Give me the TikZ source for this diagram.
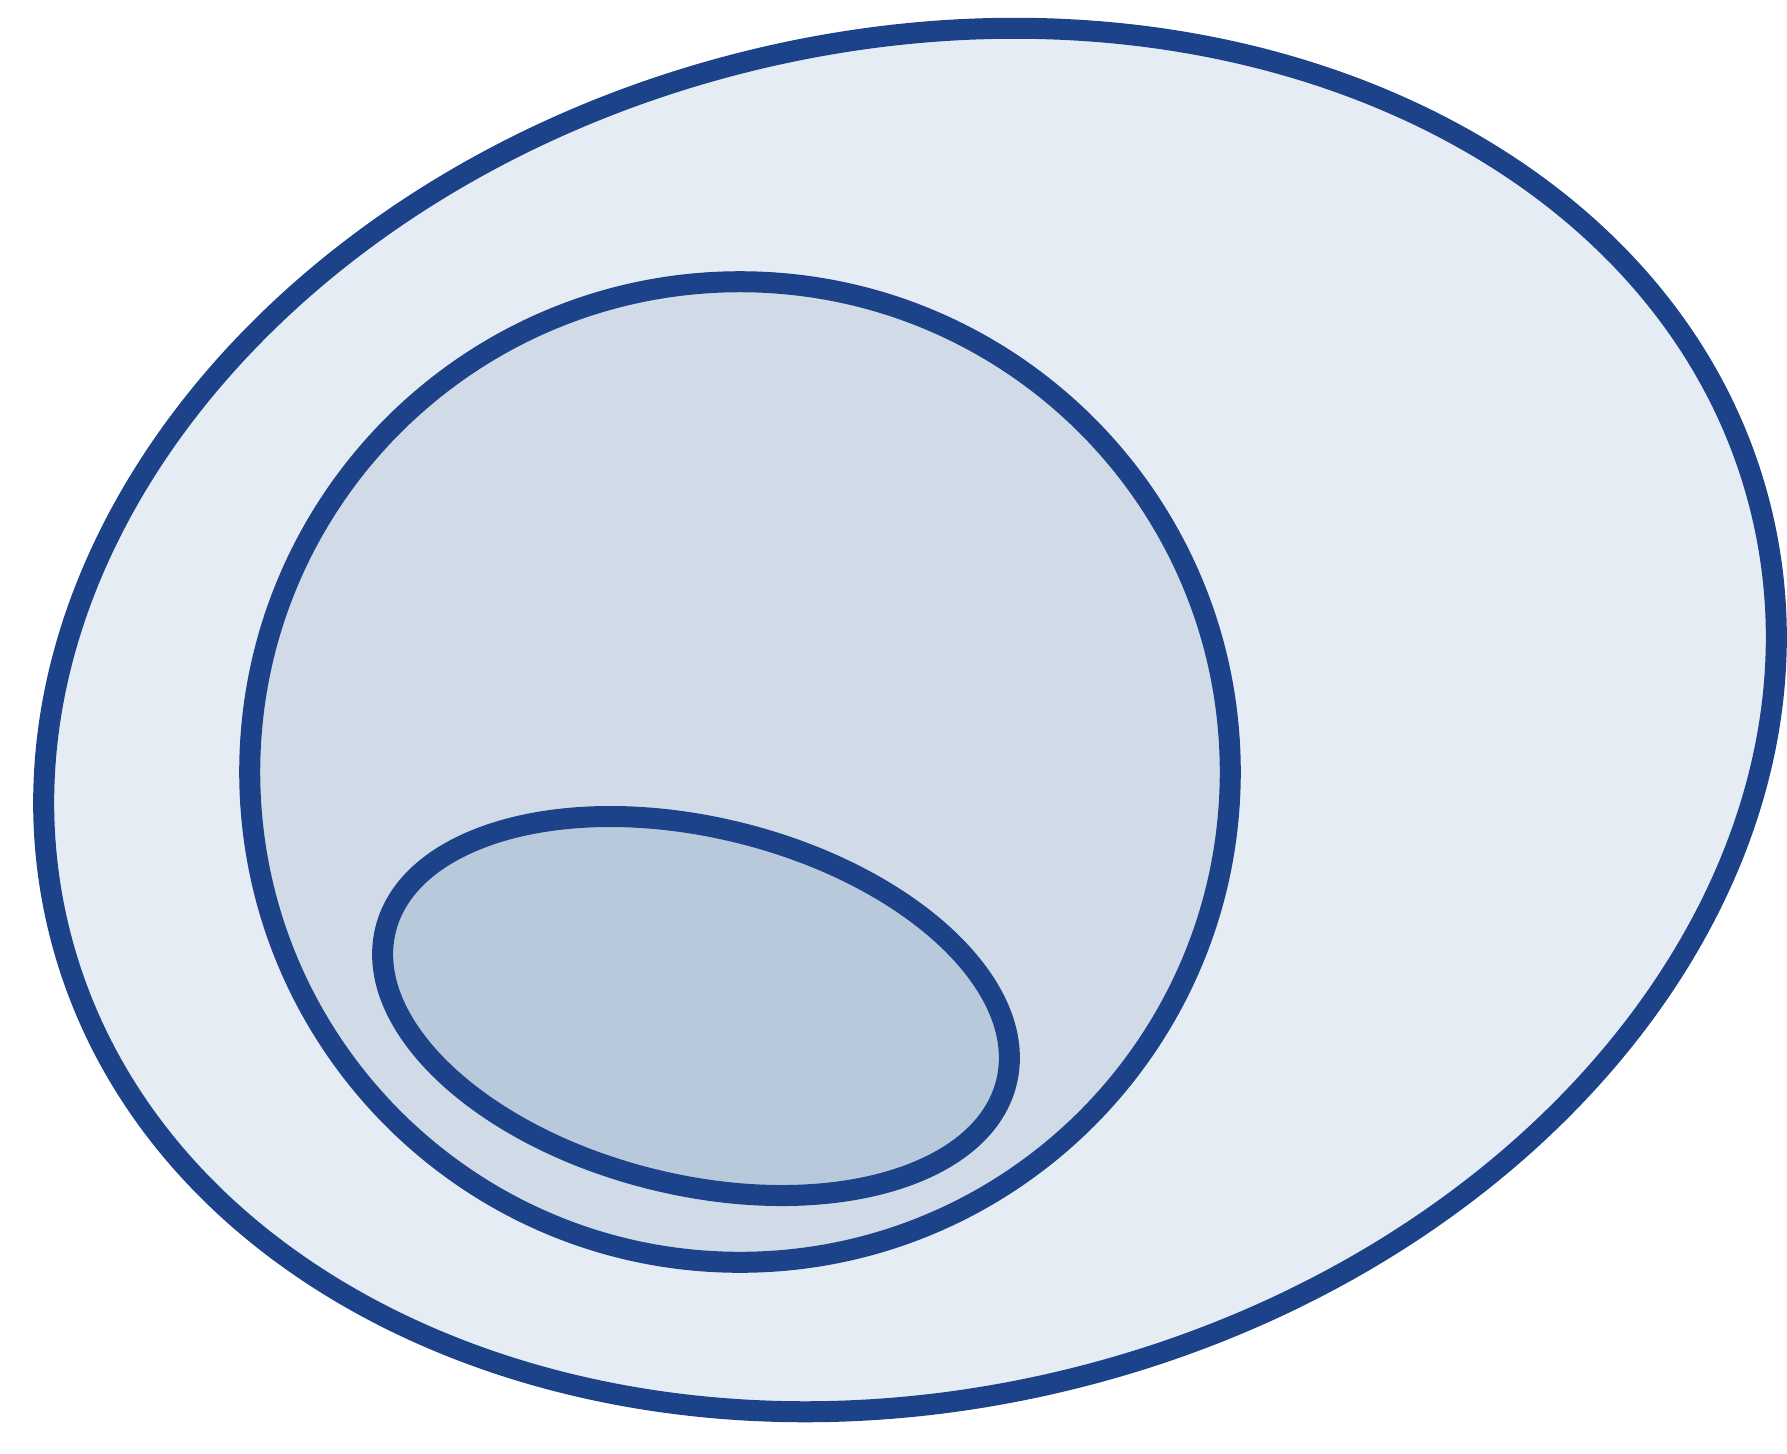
\documentclass[tikz,border=0pt]{standalone}
\usetikzlibrary{shapes.geometric}
\definecolor{OutlineColor}{HTML}{1C4389}
\definecolor{CellBg}{HTML}{E6ECF4}
\definecolor{NucleusBg}{HTML}{D0DBE7}
\definecolor{InnerBg}{HTML}{B9C9DC}

\begin{document}
\begin{tikzpicture}[
    x=0.01cm, y=-0.01cm,
    part/.style={draw=OutlineColor, line width=0.21cm, inner sep=0pt, outer sep=0pt},
    cellbody/.style={part, ellipse, fill=CellBg, minimum width=17.52cm, minimum height=13.56cm, rotate=14},
    nucleus/.style={part, circle, fill=NucleusBg, minimum size=9.8cm},
    nucleolus/.style={part, ellipse, fill=InnerBg, minimum width=6.39cm, minimum height=3.57cm, rotate=-13.8}
  ]
  \useasboundingbox (0,0) rectangle (1787,1453);
  \node[cellbody] (cell) at (910,720) {};
  \node[nucleus] (nuc) at (740,772) {};
  \node[nucleolus] (nucl) at (696,1006) {};
\end{tikzpicture}
\end{document}
